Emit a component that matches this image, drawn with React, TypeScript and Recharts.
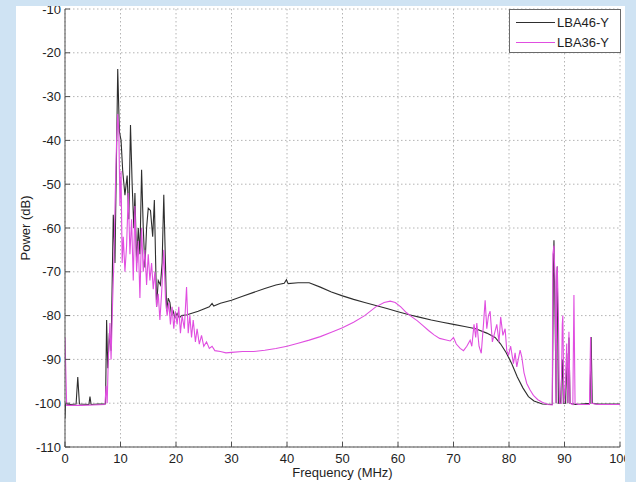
import React from 'react';
import { LineChart, Line, XAxis, YAxis, CartesianGrid, Legend } from 'recharts';

const lba46Freq = [
  0, 0.1, 1.0, 2.0, 2.3, 2.6, 4.3, 4.5, 4.7, 6.0, 7.2, 7.3, 7.5, 7.7, 8.0, 8.3, 8.7, 9.0, 9.5, 9.8,
  10.1, 10.4, 10.8, 11.2, 11.5, 11.8, 12.1, 12.4, 12.6, 12.9, 13.2, 13.5, 13.8, 14.1, 14.4, 14.7, 15.0, 15.4, 15.8, 16.1,
  16.5, 16.8, 17.2, 17.5, 17.8, 18.1, 18.3, 18.6, 18.9, 19.2, 19.5, 19.8, 20.2, 20.6, 21, 22, 24, 26, 26.5, 26.8,
  28, 30, 32, 34, 36, 38, 39.5, 39.9, 40.2, 42, 44, 46, 48, 50, 52, 54, 56, 58, 60, 62,
  64, 66, 68, 70, 72, 74, 76, 77.5, 78.5, 79.5, 80.5, 81.5, 82.5, 83.5, 84.5, 86, 87.8, 88.0, 88.1, 88.3,
  88.5, 88.6, 88.7, 88.9, 89.3, 89.6, 89.8, 90.2, 90.4, 90.6, 90.8, 91.0, 92, 94.6, 94.8, 95.0, 96, 100,
];
const lba46Power = [
  -103.5, -100.2, -100.3, -100.2, -94.0, -100.2, -100.3, -98.5, -100.3, -100.2, -100.2, -100, -81, -92, -84, -88, -57, -68, -23.7, -38,
  -40, -47, -52.5, -48, -58, -36.5, -50, -60, -52, -68, -60, -66, -46.7, -60, -69, -60, -55.5, -56, -62, -53.6,
  -78, -72, -73, -68, -52.4, -68, -79, -76, -77, -80, -79, -80.5, -79.5, -80.5, -80, -79.8, -79, -78, -77.2, -77.8,
  -77.2, -76.5, -75.6, -74.7, -73.8, -73, -72.6, -71.8, -72.7, -72.5, -72.5, -73.5, -74.6, -75.5, -76.3, -77, -77.7, -78.4, -79.1, -79.8,
  -80.4, -81, -81.5, -82, -82.5, -83, -84, -85, -86.5, -88.5, -91, -94, -96.5, -98.5, -99.5, -100.2, -100.3, -70, -62.8, -80,
  -100, -75, -68.8, -100, -100, -90, -100, -100, -88.6, -100, -85, -100, -100.3, -100, -84.9, -100, -100.2, -100.2,
];

const lba36Freq = [
  0, 0.3, 3, 5, 7.2, 7.4, 7.6, 7.8, 8.1, 8.3, 8.6, 8.8, 9.1, 9.3, 9.5, 9.7, 9.9, 10.1, 10.3, 10.5,
  10.8, 11.1, 11.4, 11.7, 12.0, 12.3, 12.6, 12.9, 13.2, 13.5, 13.8, 14.1, 14.4, 14.7, 15.0, 15.3, 15.6, 15.9, 16.2, 16.5,
  16.8, 17.1, 17.4, 17.8, 18.1, 18.4, 18.7, 19.0, 19.3, 19.6, 19.9, 20.2, 20.5, 20.8, 21.1, 21.5, 21.9, 22.2, 22.5, 22.8,
  23.1, 23.5, 23.8, 24.2, 24.6, 25, 25.5, 26, 26.5, 27, 28, 29, 30, 32, 34, 36, 38, 40, 42, 44,
  46, 48, 50, 52, 54, 56, 57.5, 58.6, 59.5, 60.5, 61.5, 62.5, 63.5, 64.5, 65.5, 66.5, 67.5, 68.5, 69.4, 70,
  70.5, 71.2, 71.8, 72.4, 73.0, 73.3, 73.7, 74.0, 74.2, 74.6, 75.0, 75.4, 75.7, 76.0, 76.3, 76.6, 77.0, 77.4, 77.8, 78.2,
  78.5, 78.9, 79.3, 79.6, 79.9, 80.3, 80.8, 81.1, 81.4, 82.0, 82.3, 82.7, 83.2, 83.8, 84.4, 85.2, 86.0, 87.0, 87.8, 87.9,
  88.1, 88.3, 88.5, 88.6, 88.7, 88.9, 89.1, 89.4, 89.6, 89.7, 89.9, 90.2, 90.4, 90.6, 90.8, 91.0, 91.5, 91.7, 91.9, 92.5,
  94.5, 94.7, 94.9, 96, 100,
];
const lba36Power = [
  -85, -100.5, -100.5, -100.4, -100.3, -96, -100, -90, -81.7, -90, -76, -68, -50, -40, -34, -38, -55, -47, -68, -62,
  -70, -64, -52, -66, -58, -72, -55, -70, -63, -76, -60, -70, -65, -73, -66, -72, -68, -74, -70, -78,
  -75, -81, -75, -65, -76, -80, -77, -82, -78, -83, -79, -82, -78, -84, -80, -83, -73.5, -84, -80, -85,
  -81, -86, -83, -86.5, -84.5, -87, -86, -87.5, -87, -88, -88.2, -88.5, -88.4, -88.2, -88.2, -87.9, -87.5, -87, -86.3, -85.6,
  -84.8, -83.8, -82.8, -81.5, -80, -78, -77, -76.7, -77, -78, -79.3, -80.3, -81.2, -82.3, -83.4, -84.4, -85.2, -85.5, -85.8, -85,
  -86.5, -87.5, -88, -87, -85.6, -87, -82, -85, -81.7, -87, -88.6, -82, -76.5, -83, -80, -79, -86, -84, -82, -86,
  -80.3, -84.5, -83, -88, -89, -87, -91, -88.5, -91.7, -87.9, -89.4, -93, -95.5, -97, -98.2, -99.2, -99.8, -100.3, -100.4, -66,
  -64, -72, -100, -70, -68.8, -80, -100, -100, -82, -80, -100, -95, -86.4, -100, -83.7, -100, -100.3, -75.3, -100, -100.3,
  -100.3, -84.9, -100, -100.3, -100.3,
];

const xTicks = [0, 10, 20, 30, 40, 50, 60, 70, 80, 90, 100];
const yTicks = [-110, -100, -90, -80, -70, -60, -50, -40, -30, -20, -10];
const seriesNames = ['LBA46-Y', 'LBA36-Y'];
const seriesColors = ['#2e2e2e', '#e04ee0'];

const lba46Data = lba46Freq.map((f, i) => ({ freq: f, power: lba46Power[i] }));
const lba36Data = lba36Freq.map((f, i) => ({ freq: f, power: lba36Power[i] }));

const FONT = '"Liberation Sans", Arial, sans-serif';
const AXIS = '#505050';
const TEXT = '#1e1e1e';

const BottomTick = (p: any) => {
  const { x, y, payload } = p;
  const base = y - 7;
  return (
    <g>
      <line x1={x} x2={x} y1={base} y2={base - 5} stroke={AXIS} />
      <text x={x} y={y} dy="0.71em" textAnchor="middle" fontSize={13} fill={TEXT} fontFamily={FONT}>
        {payload.value}
      </text>
    </g>
  );
};

const LeftTick = (p: any) => {
  const { x, y, payload } = p;
  const base = x + 4;
  return (
    <g>
      <line x1={base} x2={base + 5} y1={y} y2={y} stroke={AXIS} />
      <text x={x} y={y} dy="0.355em" textAnchor="end" fontSize={13} fill={TEXT} fontFamily={FONT}>
        {payload.value}
      </text>
    </g>
  );
};

const TopTick = (p: any) => {
  const { x, y } = p;
  return <line x1={x} x2={x} y1={y} y2={y + 5} stroke={AXIS} />;
};

const RightTick = (p: any) => {
  const { x, y } = p;
  return <line x1={x} x2={x - 5} y1={y} y2={y} stroke={AXIS} />;
};

const XTitle = (p: any) => {
  const vb = p.viewBox;
  const cx = vb.x + vb.width / 2;
  const cy = vb.y + vb.height - 5;
  return (
    <text x={cx} y={cy} textAnchor="middle" fontSize={13} fill={TEXT} fontFamily={FONT}>
      Frequency (MHz)
    </text>
  );
};

const YTitle = (p: any) => {
  const vb = p.viewBox;
  const cx = vb.x + 10;
  const cy = vb.y + vb.height / 2;
  return (
    <text
      x={cx}
      y={cy}
      transform={`rotate(-90 ${cx} ${cy})`}
      textAnchor="middle"
      dominantBaseline="central"
      fontSize={13}
      fill={TEXT}
      fontFamily={FONT}
    >
      Power (dB)
    </text>
  );
};

const LegendBox = () => (
  <svg width={112} height={44} style={{ display: 'block' }}>
    <rect x={0.5} y={0.5} width={111} height={43} fill="#ffffff" stroke="#6a6a6a" />
    {seriesNames.map((n, i) => (
      <g key={n}>
        <line x1={7} x2={46} y1={13.5 + i * 20} y2={13.5 + i * 20} stroke={seriesColors[i]} strokeWidth={1} />
        <text x={48} y={13.5 + i * 20} dy="0.355em" fontSize={13} fill={TEXT} fontFamily={FONT}>
          {n}
        </text>
      </g>
    ))}
  </svg>
);

export default function App() {
  return (
    <div style={{ position: 'absolute', left: 0, top: 0, width: 636, height: 482, background: '#cfe3f3' }}>
      <div
        style={{
          position: 'absolute',
          left: 16,
          top: 6,
          width: 609,
          height: 476,
          background: '#ffffff',
          overflow: 'hidden',
        }}
      >
        <div style={{ position: 'absolute', left: -16, top: -6, width: 636, height: 482 }}>
          <LineChart width={636} height={482} margin={{ top: 9, right: 16, bottom: 0, left: 15 }}>
            <CartesianGrid stroke="#b4b4b4" strokeDasharray="1.5 2.5" />
            <XAxis
              xAxisId={0}
              dataKey="freq"
              type="number"
              domain={[0, 100]}
              ticks={xTicks}
              allowDataOverflow
              height={35}
              tickSize={0}
              tickMargin={7}
              tickLine={false}
              tick={<BottomTick />}
              axisLine={{ stroke: AXIS }}
              label={<XTitle />}
            />
            <XAxis
              xAxisId="top"
              orientation="top"
              dataKey="freq"
              type="number"
              domain={[0, 100]}
              ticks={xTicks}
              allowDataOverflow
              height={0}
              tickSize={0}
              tickMargin={0}
              tickLine={false}
              tick={<TopTick />}
              axisLine={{ stroke: AXIS }}
            />
            <YAxis
              yAxisId={0}
              type="number"
              domain={[-110, -10]}
              ticks={yTicks}
              allowDataOverflow
              width={50}
              tickSize={0}
              tickMargin={4}
              tickLine={false}
              tick={<LeftTick />}
              axisLine={{ stroke: AXIS }}
              label={<YTitle />}
            />
            <YAxis
              yAxisId="right"
              orientation="right"
              type="number"
              domain={[-110, -10]}
              ticks={yTicks}
              allowDataOverflow
              width={0}
              tickSize={0}
              tickMargin={0}
              tickLine={false}
              tick={<RightTick />}
              axisLine={{ stroke: AXIS }}
            />
            <Legend
              layout="vertical"
              align="center"
              verticalAlign="middle"
              wrapperStyle={{ left: 509, top: 9, width: 112, height: 44 }}
              content={() => <LegendBox />}
            />
            <Line
              data={lba46Data}
              dataKey="power"
              name={seriesNames[0]}
              stroke={seriesColors[0]}
              strokeWidth={1.1}
              dot={false}
              type="linear"
              isAnimationActive={false}
            />
            <Line
              data={lba36Data}
              dataKey="power"
              name={seriesNames[1]}
              stroke={seriesColors[1]}
              strokeWidth={1.1}
              dot={false}
              type="linear"
              isAnimationActive={false}
            />
          </LineChart>
        </div>
      </div>
    </div>
  );
}
